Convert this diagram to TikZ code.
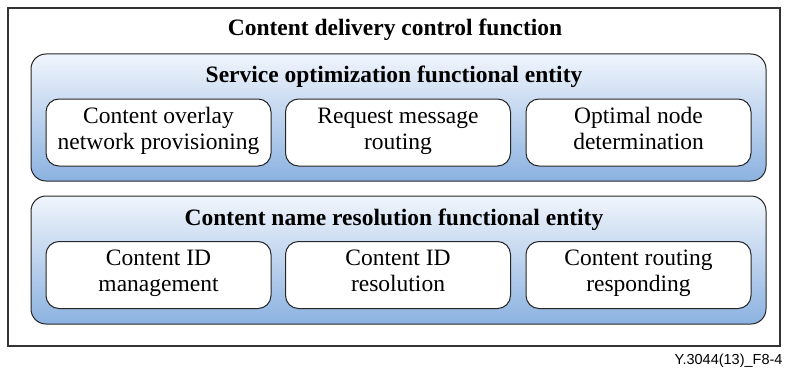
\documentclass[tikz,border=0pt]{standalone}
\usepackage{fontspec}
\setmainfont{Liberation Serif}
\newfontfamily\tagfont{Liberation Sans}
\begin{document}
\begin{tikzpicture}[x=1pt,y=-1pt,
  frame/.style={draw=black!80,line width=1.2pt},
  entity/.style={draw=black!85,line width=1pt,rounded corners=15pt,
    top color={rgb,255:red,240;green,245;blue,252},
    bottom color={rgb,255:red,139;green,178;blue,224}},
  func/.style={draw=black!85,line width=1pt,rounded corners=13pt,fill=white,
    minimum width=225pt,minimum height=67pt,align=center,inner sep=0pt,
    font=\fontsize{23.5}{26}\selectfont,
    execute at begin node=\rule{0pt}{23pt},execute at end node=\strut},
  heading/.style={anchor=base,font=\fontsize{23.5}{26}\selectfont\bfseries}]
\useasboundingbox (0,0) rectangle (790,369);
% outer function frame
\draw[frame] (8,8) rectangle (780,346);
\node[heading] (cdcf) at (395,36) {Content delivery control function};
% service optimization entity
\draw[entity] (31,54) rectangle (766,181);
\node[heading] (sofe) at (394,83) {Service optimization functional entity};
\node[func] (f1) at (158.5,132.5) {Content overlay\\network provisioning};
\node[func] (f2) at (398,132.5) {Request message\\routing};
\node[func] (f3) at (638.5,132.5) {Optimal node\\determination};
% content name resolution entity
\draw[entity] (31,196) rectangle (766,324);
\node[heading] (cnrfe) at (394,225) {Content name resolution functional entity};
\node[func] (g1) at (158.5,275) {Content ID\\management};
\node[func] (g2) at (398,275) {Content ID\\resolution};
\node[func] (g3) at (638.5,275) {Content routing\\responding};
% figure tag
\node[anchor=base east,font=\tagfont\fontsize{14.5}{16}\selectfont] (tag) at (786,364) {Y.3044(13)\_F8-4};
\end{tikzpicture}
\end{document}
